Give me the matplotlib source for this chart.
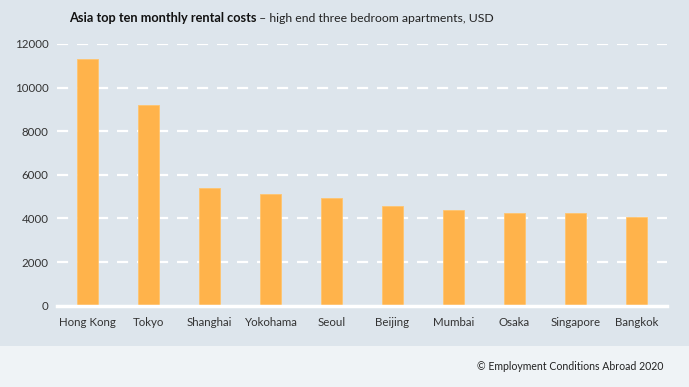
import matplotlib
matplotlib.use("Agg")
import matplotlib.pyplot as plt
from matplotlib.patches import Rectangle

cities = ["Hong Kong", "Tokyo", "Shanghai", "Yokohama", "Seoul",
          "Beijing", "Mumbai", "Osaka", "Singapore", "Bangkok"]
rent_usd = [11330, 9200, 5380, 5110, 4940, 4570, 4390, 4250, 4250, 4070]
y_ticks = [0, 2000, 4000, 6000, 8000, 10000, 12000]

plt.rcParams['font.family'] = ['Lato', 'DejaVu Sans']

bg = '#dde5ec'
fig = plt.figure(figsize=(6.89, 3.87), dpi=100, facecolor=bg)

# lighter footer band
fig.patches.append(Rectangle((0, 0), 1, 0.107, transform=fig.transFigure,
                             facecolor='#eff3f6', edgecolor='none', zorder=0))

ax = fig.add_axes([57/689, 81.3/387, 610/689, 261.7/387])
ax.set_facecolor(bg)

x = range(len(cities))
ax.bar(x, rent_usd, width=0.36, color='#ffb34b', edgecolor='#ffc46e',
       linewidth=0.6, zorder=3)

ax.set_xlim(-0.5, len(cities) - 0.5)
ax.set_ylim(0, 12000)
ax.set_yticks(y_ticks)
ax.set_xticks(list(x))
ax.set_xticklabels(cities)

# dashed white gridlines, solid baseline
for t in y_ticks[1:]:
    ax.axhline(t, color='white', linestyle=(0, (5, 4)), linewidth=1.6, zorder=1)
ax.axhline(0, color='white', linewidth=2.5, zorder=4, clip_on=False)

for s in ax.spines.values():
    s.set_visible(False)
ax.tick_params(axis='both', length=0, colors='#333333', labelsize=8.3)
ax.tick_params(axis='x', pad=8)
ax.tick_params(axis='y', pad=6)

# title in two weights
t1 = fig.text(69/689, 1 - 18/387, "Asia top ten monthly rental costs",
              fontsize=9.2, fontweight='bold', color='#111111', va='center')
fig.canvas.draw()
bb = t1.get_window_extent()
x2 = fig.transFigure.inverted().transform((bb.x1, 0))[0]
fig.text(x2, 1 - 18/387, " \u2013 high end three bedroom apartments, USD",
         fontsize=8.8, color='#222222', va='center')

fig.text(663/689, 1 - 366/387, "\u00a9 Employment Conditions Abroad 2020",
         fontsize=7.6, color='#222222', ha='right', va='center')

fig.savefig("out.png", dpi=100, facecolor=bg)
